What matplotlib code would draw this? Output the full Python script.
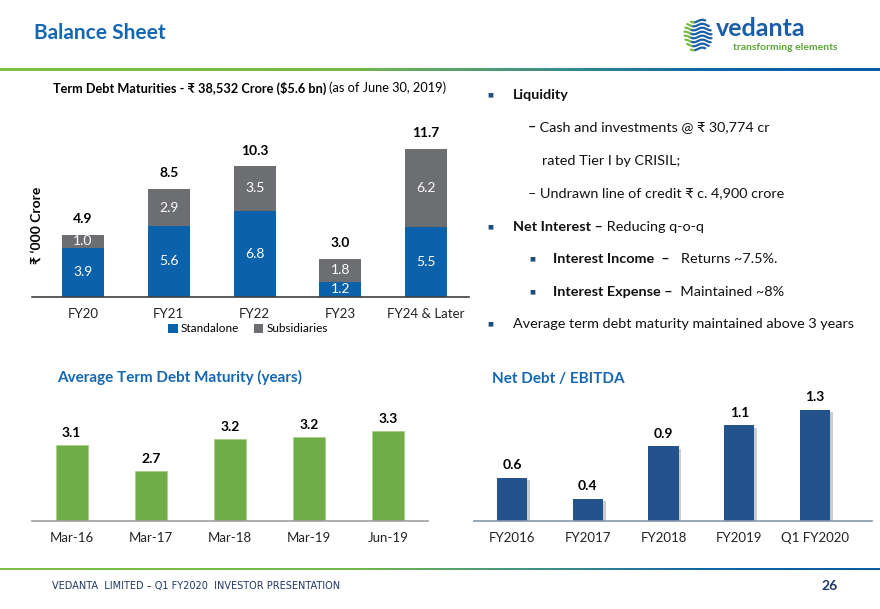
import matplotlib
matplotlib.use('Agg')
import matplotlib.pyplot as plt
import matplotlib.patheffects as pe
import numpy as np
from matplotlib.colors import LinearSegmentedColormap

FAM = ['Lato', 'DejaVu Sans']
plt.rcParams['font.family'] = FAM

# ---------------- data ----------------
tdm_categories = ['FY20', 'FY21', 'FY22', 'FY23', 'FY24 & Later']
tdm_standalone = [3.9, 5.6, 6.8, 1.2, 5.5]
tdm_subsidiaries = [1.0, 2.9, 3.5, 1.8, 6.2]

atdm_categories = ['Mar-16', 'Mar-17', 'Mar-18', 'Mar-19', 'Jun-19']
atdm_years = [3.09, 2.70, 3.18, 3.21, 3.30]

nde_categories = ['FY2016', 'FY2017', 'FY2018', 'FY2019', 'Q1 FY2020']
nde_ratio = [0.61, 0.41, 0.91, 1.11, 1.26]

W, H = 880, 609
fig = plt.figure(figsize=(8.8, 6.09), dpi=100)
renderer = fig.canvas.get_renderer()


def fx(px):
    return px / W


def fy(py):
    return 1 - py / H


BLUE = '#0b62ab'
GRAY = '#6d6e71'
GREEN = '#70ad47'
NAVY = '#24528a'
TITLE_BLUE = '#1467b3'

# ---------------- gradient rules ----------------
grad = LinearSegmentedColormap.from_list(
    'g', [(0, '#7cc142'), (0.4, '#74b84b'), (0.62, '#3f8f86'), (0.8, '#1265a6'), (1, '#0b5ba8')])


def gradient_bar(y_top, thick):
    a = fig.add_axes([0, fy(y_top + thick), 1, thick / H])
    a.imshow(np.linspace(0, 1, 256)[None, :], aspect='auto', cmap=grad)
    a.set_axis_off()


gradient_bar(68, 3.5)
gradient_bar(567.5, 2.5)

# ---------------- header ----------------
fig.text(fx(34), fy(33), 'Balance Sheet', fontsize=15, fontweight='bold',
         color=TITLE_BLUE, va='center', ha='left')

# logo
fig.text(fx(716), fy(29), 'vedanta', fontsize=18, fontweight='bold',
         color='#1a5ea8', va='center', ha='left')
fig.text(fx(733), fy(47), 'transforming elements', fontsize=7.5, fontweight='bold',
         color='#5aa832', va='center', ha='left')
icon = fig.add_axes([fx(683), fy(53), 30 / W, 36 / H])
icon.set_xlim(-1.1, 1.1)
icon.set_ylim(-1.1, 1.1)
icon.set_axis_off()
for i, yy in enumerate(np.linspace(-0.85, 0.85, 8)):
    half = np.sqrt(max(1 - yy ** 2, 0.05))
    xs = np.linspace(-half * 0.55, half, 30)
    icon.plot(xs, yy + 0.08 * np.sin(xs * 5), color='#1a5ea8', lw=1.6, solid_capstyle='round')
    xs2 = np.linspace(-half, -half * 0.6, 10)
    icon.plot(xs2, yy + 0.08 * np.sin(xs2 * 5), color='#76bc43', lw=1.6, solid_capstyle='round')

# ---------------- chart 1: term debt maturities ----------------
ax1 = fig.add_axes([fx(32), fy(297), 437 / W, 165 / H])
x1 = np.arange(len(tdm_categories))
b1 = ax1.bar(x1, tdm_standalone, width=0.49, color=BLUE, label='Standalone')
b2 = ax1.bar(x1, tdm_subsidiaries, width=0.49, bottom=tdm_standalone, color=GRAY,
             label='Subsidiaries')
ax1.set_xlim(-0.595, 4.5)
ax1.set_ylim(0, 13)
for s in ['top', 'right', 'left']:
    ax1.spines[s].set_visible(False)
ax1.spines['bottom'].set_color('#404040')
ax1.spines['bottom'].set_linewidth(1.2)
ax1.set_yticks([])
ax1.set_xticks(x1)
ax1.set_xticklabels(tdm_categories, fontsize=9.5, color='#222222')
ax1.tick_params(axis='x', length=0, pad=8)
for i in range(len(x1)):
    s = tdm_standalone[i]
    u = tdm_subsidiaries[i]
    ax1.text(x1[i], s / 2, f'{s:.1f}', ha='center', va='center', color='white', fontsize=10)
    ax1.text(x1[i], s + u / 2, f'{u:.1f}', ha='center', va='center', color='white', fontsize=10)
    ax1.annotate(f'{s + u:.1f}', (x1[i], s + u), xytext=(0, 7), textcoords='offset points',
                 ha='center', va='bottom', fontsize=10, fontweight='bold', color='black')

fig.text(fx(37), fy(225), '₹ ‘000 Crore', rotation=90, fontsize=10, fontweight='bold',
         ha='center', va='center')
fig.legend(handles=[b1, b2], labels=['Standalone', 'Subsidiaries'], loc='center',
           bbox_to_anchor=(fx(248), fy(329)), ncol=2, frameon=False, fontsize=8.5,
           handlelength=0.8, handleheight=0.8, columnspacing=1.2, handletextpad=0.3)

# title with mixed weights
t_bold = fig.text(fx(53), fy(88), 'Term Debt Maturities - ₹ 38,532 Crore ($5.6 bn)',
                  fontsize=9.2, fontweight='bold', ha='left', va='center', parse_math=False)
bb = t_bold.get_window_extent(renderer)
fig.text((bb.x1 + 3) / W, fy(88), '(as of June 30, 2019)', fontsize=9.2, ha='left',
         va='center', parse_math=False)

# ---------------- right text block ----------------
BUL = '#1f4e79'
TXT_FS = 10.4


def mixed(x, y, parts, fs=TXT_FS):
    cx = fx(x)
    for txt, w in parts:
        t = fig.text(cx, fy(y), txt, fontsize=fs, fontweight=w, ha='left', va='center',
                     color='#111111')
        e = t.get_window_extent(renderer)
        cx = e.x1 / fig.bbox.width


def bullet(x, y):
    fig.text(fx(x), fy(y), '■', fontsize=4.5, color=BUL, ha='center', va='center',
             family=['DejaVu Sans'])


bullet(490, 95)
mixed(513, 95, [('Liquidity', 'bold')])
mixed(528, 127, [('–', 'bold'), (' Cash and investments @ ₹ 30,774 cr', 'normal')])
mixed(542, 161, [('rated Tier I by CRISIL;', 'normal')])
mixed(528, 193, [('– Undrawn line of credit ₹ c. 4,900 crore', 'normal')])
bullet(490, 227)
mixed(513, 227, [('Net Interest –', 'bold'), (' Reducing q-o-q', 'normal')])
bullet(532, 259)
mixed(553, 259, [('Interest Income  –', 'bold'), ('   Returns ~7.5%.', 'normal')])
bullet(532, 292)
mixed(553, 292, [('Interest Expense –', 'bold'), ('  Maintained ~8%', 'normal')])
bullet(490, 324)
mixed(513, 324, [('Average term debt maturity maintained above 3 years', 'normal')])

# ---------------- chart 2: average term debt maturity ----------------
fig.text(fx(57), fy(377), 'Average Term Debt Maturity (years)', fontsize=11,
         fontweight='bold', color=TITLE_BLUE, ha='left', va='center')
ax2 = fig.add_axes([fx(32), fy(521), 396 / W, 121 / H])
x2 = np.arange(len(atdm_categories))
ax2.bar(x2, np.array(atdm_years) - 1.95, bottom=1.95, width=0.405, color=GREEN,
        edgecolor='#a9d18e', linewidth=0.6)
ax2.set_xlim(-0.5, 4.5)
ax2.set_ylim(1.95, 1.95 + 121 / 66.7)
for s in ['top', 'right', 'left']:
    ax2.spines[s].set_visible(False)
ax2.spines['bottom'].set_color('#a0a0a0')
ax2.spines['bottom'].set_linewidth(1.2)
ax2.set_yticks([])
ax2.set_xticks(x2)
ax2.set_xticklabels(atdm_categories, fontsize=9.5, color='#222222')
ax2.tick_params(axis='x', length=0, pad=8)
for xi, v in zip(x2, atdm_years):
    ax2.annotate(f'{v:.1f}', (xi, v), xytext=(0, 4), textcoords='offset points',
                 ha='center', va='bottom', fontsize=10, fontweight='bold')

# ---------------- chart 3: net debt / EBITDA ----------------
fig.text(fx(492), fy(379), 'Net Debt / EBITDA', fontsize=11, fontweight='bold',
         color=TITLE_BLUE, ha='left', va='center')
ax3 = fig.add_axes([fx(474), fy(521), 398 / W, 121 / H])
x3 = np.arange(len(nde_categories))
bars3 = ax3.bar(x3, np.array(nde_ratio) - 0.2, bottom=0.2, width=0.4, color=NAVY)
for b in bars3:
    b.set_path_effects([pe.SimplePatchShadow(offset=(2, -1.5), shadow_rgbFace='#9a9a9a',
                                             alpha=0.5), pe.Normal()])
ax3.set_xlim(-0.5, 4.75)
ax3.set_ylim(0.2, 0.2 + 121 / 105)
for s in ['top', 'right', 'left']:
    ax3.spines[s].set_visible(False)
ax3.spines['bottom'].set_color('#8497b0')
ax3.spines['bottom'].set_linewidth(1.2)
ax3.set_yticks([])
ax3.set_xticks(x3)
ax3.set_xticklabels(nde_categories, fontsize=9.5, color='#222222')
ax3.tick_params(axis='x', length=0, pad=8)
for xi, v in zip(x3, nde_ratio):
    ax3.annotate(f'{v:.1f}', (xi, v), xytext=(0, 5), textcoords='offset points',
                 ha='center', va='bottom', fontsize=10, fontweight='bold')

# ---------------- footer ----------------
fig.text(fx(52), fy(586), 'VEDANTA  LIMITED – Q1 FY2020  INVESTOR PRESENTATION',
         fontsize=7, color='#1f3864', ha='left', va='center',
         family=['Liberation Sans Narrow', 'DejaVu Sans'])
fig.text(fx(830), fy(586), '26', fontsize=10, fontweight='bold', color='#1f3864',
         ha='center', va='center')

fig.savefig('out.png', dpi=100)
